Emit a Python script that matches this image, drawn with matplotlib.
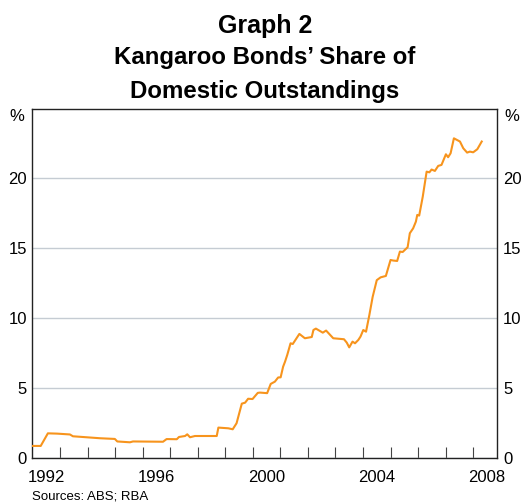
import numpy as np
import matplotlib
matplotlib.use("Agg")
from matplotlib import pyplot as plt
from matplotlib.ticker import FixedLocator, NullFormatter

plt.rcParams['font.family'] = ['Liberation Sans', 'DejaVu Sans']

# share of domestic outstandings, %, dates as decimal years
dates = [1992.02, 1992.30, 1992.56, 1992.89, 1993.36, 1993.47, 1994.45, 1994.99,
         1995.08, 1995.54, 1995.65, 1996.74, 1996.87, 1997.24, 1997.32, 1997.54,
         1997.62, 1997.72, 1997.90, 1998.69, 1998.75, 1999.11, 1999.27, 1999.41,
         1999.60, 1999.72, 1999.83, 1999.99, 2000.18, 2000.26, 2000.52, 2000.65,
         2000.80, 2000.92, 2001.01, 2001.10, 2001.17, 2001.25, 2001.37, 2001.45,
         2001.69, 2001.89, 2002.14, 2002.20, 2002.29, 2002.54, 2002.66, 2002.92,
         2003.31, 2003.41, 2003.50, 2003.62, 2003.71, 2003.83, 2003.91, 2004.01,
         2004.11, 2004.23, 2004.35, 2004.50, 2004.64, 2004.83, 2005.00, 2005.10,
         2005.24, 2005.34, 2005.44, 2005.62, 2005.70, 2005.82, 2005.92, 2005.97,
         2006.04, 2006.17, 2006.31, 2006.41, 2006.49, 2006.61, 2006.73, 2006.85,
         2007.01, 2007.09, 2007.18, 2007.30, 2007.52, 2007.64, 2007.78, 2007.88,
         2008.00, 2008.15, 2008.31]
share = [0.86, 0.86, 1.76, 1.74, 1.68, 1.55, 1.41, 1.36,
         1.18, 1.12, 1.18, 1.16, 1.35, 1.34, 1.50, 1.57,
         1.69, 1.48, 1.57, 1.57, 2.17, 2.12, 2.05, 2.48,
         3.88, 3.95, 4.23, 4.21, 4.65, 4.67, 4.63, 5.29,
         5.45, 5.75, 5.76, 6.52, 6.88, 7.36, 8.19, 8.14,
         8.86, 8.55, 8.64, 9.14, 9.24, 8.95, 9.10, 8.55,
         8.48, 8.24, 7.90, 8.31, 8.19, 8.43, 8.67, 9.14,
         9.02, 10.2, 11.5, 12.7, 12.9, 13.0, 14.14, 14.10,
         14.07, 14.74, 14.71, 15.05, 16.05, 16.4, 16.88, 17.36,
         17.31, 18.67, 20.45, 20.4, 20.6, 20.5, 20.86, 20.93,
         21.69, 21.48, 21.76, 22.83, 22.6, 22.12, 21.81, 21.88,
         21.83, 22.05, 22.6]

year_labels = [1992, 1996, 2000, 2004, 2008]
y_ticks = [0, 5, 10, 15, 20]

fig = plt.figure(figsize=(5.32, 5.03), dpi=100)
ax = fig.add_axes([0.061, 0.0895, 0.874, 0.694])

ax.plot(dates, share, color='#f7941d', lw=1.5, zorder=3)

ax.set_xlim(1992.0, 2008.88)
ax.set_ylim(0, 24.93)

# year boundaries as inside ticks, labels centred on the year
ax.xaxis.set_minor_locator(FixedLocator(np.arange(1993, 2009)))
ax.xaxis.set_minor_formatter(NullFormatter())
ax.set_xticks([y + 0.5 for y in year_labels])
ax.set_xticklabels([str(y) for y in year_labels])
ax.tick_params(axis='x', which='major', length=0, pad=9, labelsize=12)
ax.tick_params(axis='x', which='minor', direction='in', length=8, width=0.8,
               color='#444444', top=False)

ax.set_yticks(y_ticks)
ax.tick_params(axis='y', which='both', length=0, labelsize=12, pad=4,
               right=True, labelright=True)
ax.yaxis.grid(True, color='#c5ccd3', lw=1.0)
ax.set_axisbelow(True)
for s in ax.spines.values():
    s.set_linewidth(1.0)
    s.set_color('#222222')

ax.text(-0.017, 1.0, '%', transform=ax.transAxes, ha='right', va='top', fontsize=12)
ax.text(1.015, 1.0, '%', transform=ax.transAxes, ha='left', va='top', fontsize=12)

fig.text(0.498, 0.934, 'Graph 2', ha='center', va='baseline', fontsize=18,
         fontweight='bold')
fig.text(0.498, 0.872, 'Kangaroo Bonds\u2019 Share of', ha='center', va='baseline',
         fontsize=17.3, fontweight='bold')
fig.text(0.498, 0.806, 'Domestic Outstandings', ha='center', va='baseline',
         fontsize=17.3, fontweight='bold')
fig.text(0.061, 0.007, 'Sources: ABS; RBA', ha='left', va='baseline', fontsize=9.5)

fig.savefig('out.png', dpi=100)
